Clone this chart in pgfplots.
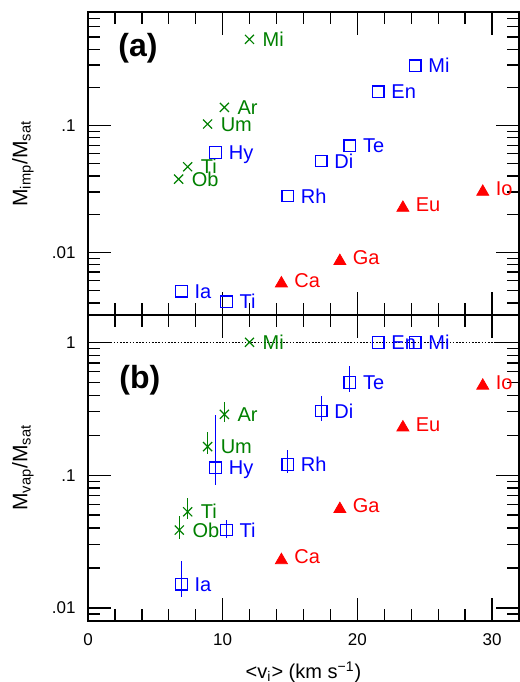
\documentclass[border=0pt]{standalone}
\usepackage{fontspec}
\setmainfont{Liberation Sans}
\usepackage{pgfplots}
\pgfplotsset{compat=1.18}
\definecolor{mygreen}{RGB}{0,128,0}
\definecolor{myblue}{RGB}{0,0,255}
\definecolor{myred}{RGB}{255,0,0}
\pgfplotsset{
  mypanelstyle/.style={
    scale only axis, width=215.5pt, xmin=0, xmax=32,
    xtick={0,10,20,30}, minor xtick={2,4,6,8,12,14,16,18,22,24,26,28},
    tick align=inside, xtick pos=both, ytick pos=both,
    xticklabel pos=left, yticklabel pos=left,
    major tick length=11.5pt, minor tick length=6pt,
    axis line style={line width=1pt},
    every tick/.style={black, line width=0.65pt},
    tick label style={font=\fontsize{8.5}{10}\selectfont},
    xticklabel style={yshift=-3pt},
    yticklabel style={xshift=-2.7pt},
    every axis y label/.style={at={(axis description cs:-0.151,0.5)}, rotate=90, anchor=center, font=\fontsize{10.5}{12}\selectfont},
    every axis x label/.style={at={(axis description cs:0.5,-0.1686)}, anchor=center, font=\fontsize{10}{12}\selectfont},
    clip=false,
  },
  mylabstyle/.style={nodes near coords, point meta=explicit symbolic,
    every node near coord/.style={anchor=base west, inner sep=0pt, xshift=6.3pt, yshift=#1, font=\fontsize{10}{12}\selectfont}},
  gpt/.style={only marks, mark=x, mark size=3.2pt, color=mygreen, mark options={line width=0.6pt}, mylabstyle=-3.6pt},
  bpt/.style={only marks, mark=square, mark size=2.9pt, color=myblue, mark options={line width=0.6pt}, mylabstyle=-3.6pt},
  rpt/.style={only marks, mark=triangle*, mark size=3.46pt, color=myred, mark options={line width=0.4pt}, mylabstyle=-1.9pt},
  errs/.style={error bars/.cd, y dir=both, y explicit, error mark=none,
    error bar style={line width=0.6pt, color=#1}},
}
\begin{document}
\begin{tikzpicture}
\path[use as bounding box] (-44pt,-30.75pt) rectangle (216pt,310.25pt);
% ---------------- panel (a)
\begin{axis}[mypanelstyle, ymode=log, at={(0pt,152.75pt)}, anchor=south west, height=151.5pt,
  ymin=0.00321, ymax=0.785,
  ytick={0.01,0.1}, yticklabels={.01,.1},
  minor ytick={0.004,0.005,0.006,0.007,0.008,0.009,0.02,0.03,0.04,0.05,0.06,0.07,0.08,0.09,0.2,0.3,0.4,0.5,0.6,0.7},
  xticklabels={},
  ylabel={M\textsubscript{imp}/M\textsubscript{sat}}]
\addplot[gpt] table[meta=l] {
x y l
11.99 0.478 Mi
10.13 0.139 Ar
8.88 0.1028 Um
7.40 0.0473 Ti
6.73 0.0378 Ob
};
\addplot[bpt] table[meta=l] {
x y l
24.30 0.296 Mi
21.55 0.1847 En
19.44 0.0693 Te
17.32 0.0525 Di
9.48 0.0615 Hy
14.83 0.0278 Rh
6.93 0.00495 Ia
10.28 0.00408 Ti
};
\addplot[rpt] table[meta=l] {
x y l
14.36 0.00569 Ca
18.70 0.00854 Ga
23.38 0.02244 Eu
29.31 0.0300 Io
};
\node[anchor=north west, inner sep=0pt, font=\fontsize{16}{18}\selectfont\bfseries] at (rel axis cs:0.0696,0.9307) {(a)};
\end{axis}
% ---------------- panel (b)
\begin{axis}[mypanelstyle, ymode=log, at={(0pt,0pt)}, anchor=south west, height=152.75pt,
  ymin=0.00805, ymax=1.606,
  ytick={0.01,0.1,1}, yticklabels={.01,.1,1},
  minor ytick={0.009,0.02,0.03,0.04,0.05,0.06,0.07,0.08,0.09,0.2,0.3,0.4,0.5,0.6,0.7,0.8,0.9},
  xticklabels={0,10,20,30},
  ylabel={M\textsubscript{vap}/M\textsubscript{sat}},
  xlabel={\textless v\textsubscript{i}\textgreater\ (km s\textsuperscript{−1})}]
\addplot[black, line width=0.6pt, dash pattern=on 0.8pt off 0.8pt, no marks, forget plot] coordinates {(0,1) (32,1)};
\addplot[gpt, errs=mygreen] table[meta=l, y error plus=ep, y error minus=em] {
x y ep em l
11.99 1.0 0 0 Mi
10.13 0.287 0.070 0.035 Ar
8.88 0.164 0.046 0.020 Um
7.40 0.053 0.0139 0.0065 Ti
6.78 0.0386 0.0109 0.0056 Ob
};
\addplot[bpt, errs=myblue] table[meta=l, y error plus=ep, y error minus=em] {
x y ep em l
21.55 1.0 0 0 En
24.30 1.0 0 0 Mi
19.44 0.50 0.163 0.075 Te
17.32 0.304 0.090 0.047 Di
9.48 0.1137 0.1703 0.0295 Hy
14.83 0.1206 0.0354 0.0176 Rh
10.28 0.0386 0.0073 0.0048 Ti
6.93 0.0151 0.0076 0.0030 Ia
};
\addplot[rpt] table[meta=l] {
x y l
14.36 0.0229 Ca
18.70 0.0555 Ga
23.38 0.2285 Eu
29.31 0.471 Io
};
\node[anchor=north west, inner sep=0pt, font=\fontsize{16}{18}\selectfont\bfseries] at (rel axis cs:0.0719,0.8363) {(b)};
\end{axis}
\end{tikzpicture}
\end{document}
